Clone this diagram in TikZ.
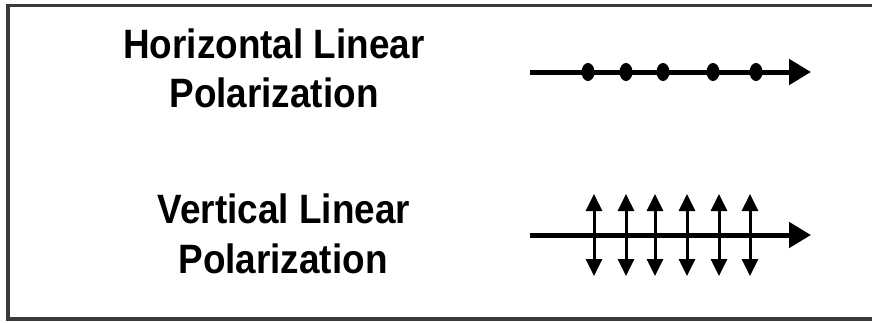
\documentclass[tikz,border=0pt]{standalone}
\usepackage{fontspec}
\setmainfont{Liberation Sans}
\usetikzlibrary{arrows.meta}
\definecolor{framegray}{HTML}{3A3A3A}
\tikzset{
  lbl/.style={font=\fontsize{41}{49}\selectfont\bfseries, align=center, inner sep=0pt, xscale=0.9},
  beam/.style={line width=5pt, -{Triangle[length=22pt,width=25pt]}},
  osc/.style={line width=3pt, {Triangle[length=17pt,width=16pt]}-{Triangle[length=17pt,width=16pt]}},
  dotmark/.style={fill=black, draw=none}
}
\begin{document}
\begin{tikzpicture}[x=1pt,y=-1pt]
\useasboundingbox (0,0) rectangle (872,322);
\fill[white] (0,0) rectangle (872,322);
\draw[framegray, line width=3.5pt] (873,5.5) -- (8,5.5) -- (8,319) -- (873,319);

\node[lbl, anchor=base] (h1) at (274,58) {Horizontal Linear};
\node[lbl, anchor=base] (h2) at (274,107) {Polarization};
\node[lbl, anchor=base] (v1) at (284,223) {Vertical Linear};
\node[lbl, anchor=base] (v2) at (283,273) {Polarization};

\coordinate (hs) at (530,72);
\coordinate (he) at (811,72);
\draw[beam] (hs) -- (he);
\foreach \x [count=\i] in {588,626,663,713,756} {
  \fill[dotmark] (\x,72) ellipse [x radius=6.5, y radius=9];
}

\coordinate (vs) at (530,235);
\coordinate (ve) at (811,235);
\draw[beam] (vs) -- (ve);
\foreach \x [count=\i] in {594,626,655,687,719,750} {
  \coordinate (t\i) at (\x,194);
  \coordinate (b\i) at (\x,276);
  \draw[osc] (b\i) -- (t\i);
}
\end{tikzpicture}
\end{document}
